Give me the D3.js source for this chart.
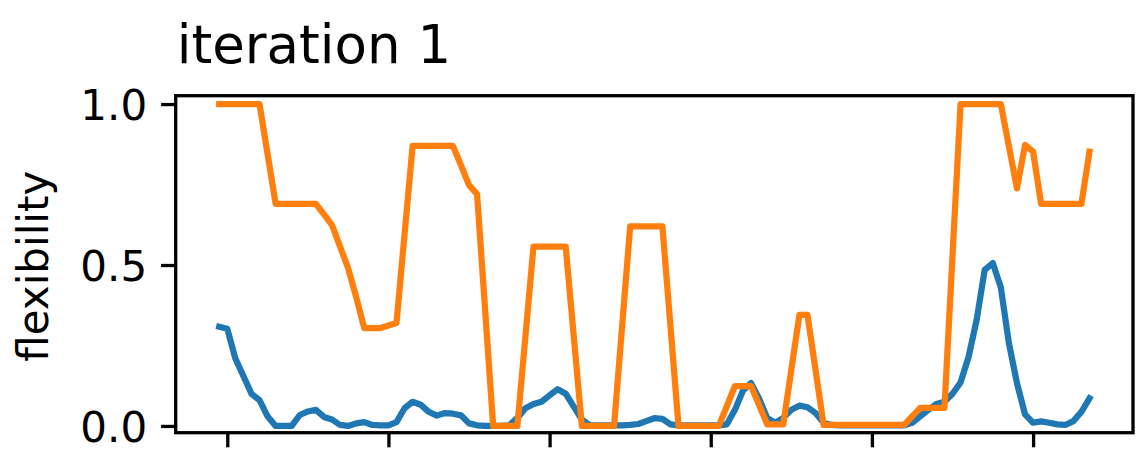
<!DOCTYPE html>
<html>
<head>
<meta charset="utf-8">
<script src="https://cdn.jsdelivr.net/npm/d3@7"></script>
<style>
  html, body { margin: 0; padding: 0; background: #fff; }
  svg { display: block; }
  text { font-family: "DejaVu Sans", sans-serif; fill: #000; }
</style>
</head>
<body>
<svg id="chart" width="1148" height="465"></svg>
<script>
// ---- data ----
const TITLE = "iteration 1";
const Y_LABEL = "flexibility";
const X_START = -1; // x value of first sample
const xTickValues = [0, 20, 40, 60, 80, 100];
const yTickValues = [0.0, 0.5, 1.0];
const yTickLabels = ["0.0", "0.5", "1.0"];

const seriesBlue = [
  0.308, 0.302, 0.21, 0.155, 0.10, 0.08, 0.03, 0.0, 0.0, 0.0,
  0.034, 0.045, 0.05, 0.028, 0.02, 0.003, 0.0, 0.008, 0.012, 0.003,
  0.002, 0.002, 0.012, 0.055, 0.075, 0.066, 0.044, 0.032, 0.04, 0.038,
  0.033, 0.008, 0.002, 0.0, 0.0, 0.0, 0.002, 0.025, 0.055, 0.068,
  0.075, 0.095, 0.114, 0.10, 0.06, 0.02, 0.002, 0.002, 0.002, 0.002,
  0.002, 0.003, 0.006, 0.015, 0.024, 0.022, 0.005, 0.002, 0.002, 0.002,
  0.002, 0.002, 0.002, 0.005, 0.05, 0.11, 0.133, 0.085, 0.025, 0.01,
  0.025, 0.05, 0.063, 0.058, 0.04, 0.01, 0.003, 0.002, 0.002, 0.002,
  0.002, 0.002, 0.002, 0.002, 0.002, 0.002, 0.01, 0.03, 0.05, 0.068,
  0.075, 0.10, 0.135, 0.215, 0.33, 0.485, 0.506, 0.43, 0.257, 0.133,
  0.036, 0.01, 0.014, 0.01, 0.005, 0.003, 0.015, 0.044, 0.086
];

const seriesOrange = [
  1.0, 1.0, 1.0, 1.0, 1.0, 1.0, 0.845, 0.69, 0.69, 0.69,
  0.69, 0.69, 0.69, 0.657, 0.624, 0.557, 0.49, 0.40, 0.304, 0.304,
  0.304, 0.312, 0.32, 0.595, 0.87, 0.87, 0.87, 0.87, 0.87, 0.87,
  0.81, 0.748, 0.72, 0.36, 0.0, 0.0, 0.0, 0.0, 0.278, 0.557,
  0.557, 0.557, 0.557, 0.557, 0.278, 0.0, 0.0, 0.0, 0.0, 0.0,
  0.31, 0.62, 0.62, 0.62, 0.62, 0.62, 0.31, 0.0, 0.0, 0.0,
  0.0, 0.0, 0.0, 0.062, 0.124, 0.124, 0.124, 0.065, 0.005, 0.005,
  0.005, 0.175, 0.345, 0.345, 0.175, 0.003, 0.003, 0.003, 0.003, 0.003,
  0.003, 0.003, 0.003, 0.003, 0.003, 0.003, 0.03, 0.056, 0.056, 0.056,
  0.056, 0.528, 1.0, 1.0, 1.0, 1.0, 1.0, 1.0, 0.869, 0.738,
  0.873, 0.852, 0.69, 0.69, 0.69, 0.69, 0.69, 0.69, 0.852
];

const COLORS = { blue: "#1f77b4", orange: "#ff7f0e" };

// ---- layout ----
const plot = { left: 175.7, right: 1133, top: 95.7, bottom: 432.7 };
const svg = d3.select("#chart");

const n = seriesBlue.length;
const xMin = X_START, xMax = X_START + n - 1;
const xPad = 0.05 * (xMax - xMin);
const x = d3.scaleLinear().domain([xMin - xPad, xMax + xPad]).range([plot.left, plot.right]);
const y = d3.scaleLinear().domain([-0.021, 1.026]).range([plot.bottom, plot.top]);

const line = d3.line()
  .x((d, i) => x(X_START + i))
  .y(d => y(d));

// lines (clipped to axes)
svg.append("clipPath").attr("id", "clip")
  .append("rect")
  .attr("x", plot.left).attr("y", plot.top)
  .attr("width", plot.right - plot.left).attr("height", plot.bottom - plot.top);

const g = svg.append("g").attr("clip-path", "url(#clip)");
[[seriesBlue, COLORS.blue], [seriesOrange, COLORS.orange]].forEach(([s, c]) => {
  g.append("path")
    .datum(s)
    .attr("d", line)
    .attr("fill", "none")
    .attr("stroke", c)
    .attr("stroke-width", 6.25)
    .attr("stroke-linejoin", "round")
    .attr("stroke-linecap", "square");
});

// axes
const yAxis = d3.axisLeft(y)
  .tickValues(yTickValues)
  .tickFormat((d, i) => yTickLabels[i])
  .tickSize(14.6)
  .tickPadding(14);
const yg = svg.append("g").attr("transform", `translate(${plot.left},0)`).call(yAxis);

const xAxis = d3.axisBottom(x)
  .tickValues(xTickValues)
  .tickFormat("")
  .tickSize(14.6);
const xg = svg.append("g").attr("transform", `translate(0,${plot.bottom})`).call(xAxis);

[yg, xg].forEach(a => {
  a.select(".domain").remove();
  a.selectAll(".tick line").attr("stroke", "#000").attr("stroke-width", 3.3);
  a.selectAll(".tick text")
    .style("font-family", "'DejaVu Sans', sans-serif")
    .style("font-size", "42px")
    .attr("fill", "#000");
});
yg.selectAll(".tick text").attr("dy", "0.36em");

// frame
svg.append("rect")
  .attr("x", plot.left).attr("y", plot.top)
  .attr("width", plot.right - plot.left).attr("height", plot.bottom - plot.top)
  .attr("fill", "none").attr("stroke", "#000").attr("stroke-width", 3.3);

// title
svg.append("text")
  .attr("x", plot.left + 1)
  .attr("y", 62.5)
  .style("font-size", "53px")
  .text(TITLE);

// y label
svg.append("text")
  .attr("transform", `translate(48,${(plot.top + plot.bottom) / 2 + 2}) rotate(-90)`)
  .attr("text-anchor", "middle")
  .style("font-size", "42px")
  .text(Y_LABEL);
</script>
</body>
</html>
